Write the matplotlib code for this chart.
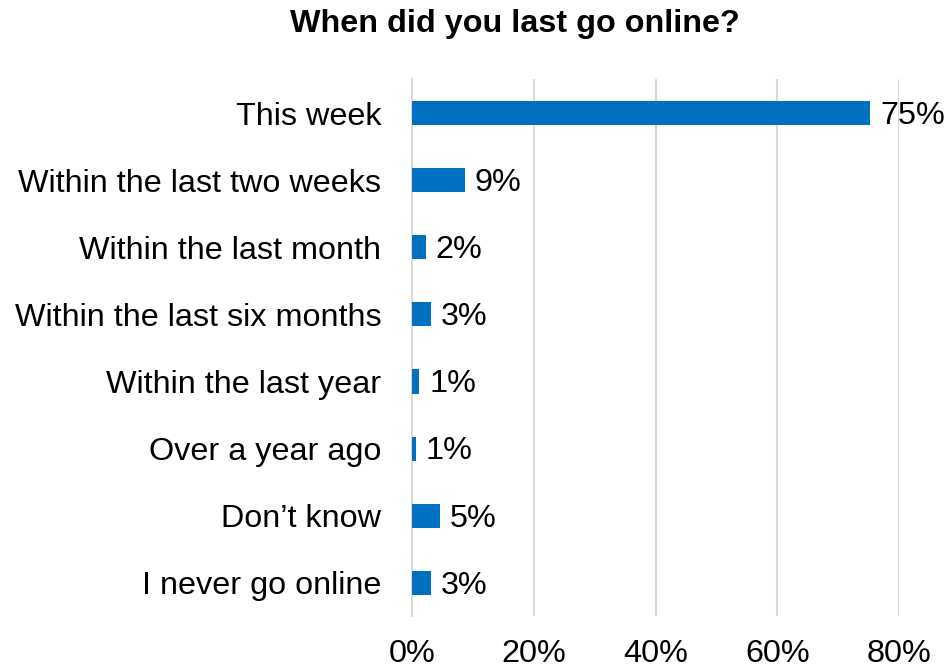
import matplotlib.pyplot as plt
from matplotlib.ticker import FuncFormatter

plt.rcParams['font.family'] = ['Liberation Sans', 'DejaVu Sans']

categories = ['This week', 'Within the last two weeks', 'Within the last month',
              'Within the last six months', 'Within the last year', 'Over a year ago',
              'Don\u2019t know', 'I never go online']
shares = [75.3, 8.7, 2.3, 3.1, 1.2, 0.6, 4.6, 3.1]
x_ticks = [0, 20, 40, 60, 80]

bar_color = '#0070C0'
grid_color = '#D9D9D9'
fs = 23.3

fig = plt.figure(figsize=(9.52, 6.7), dpi=100)
ax = fig.add_axes([0.4328, 0.0799, 0.5116, 0.8015])

y = list(range(len(categories)))
ax.barh(y, shares, height=0.36, color=bar_color, zorder=3)

# value labels, nudged down so the digits sit centred on the bar
for yi, v in zip(y, shares):
    ax.annotate('%d%%' % int(v + 0.5), (v, yi), xytext=(7, -2), textcoords='offset points',
                va='center', ha='left', fontsize=fs, color='black', zorder=4)

ax.set_xlim(0, 80)
ax.set_ylim(len(categories) - 0.5, -0.5)
ax.set_xticks(x_ticks)
ax.xaxis.set_major_formatter(FuncFormatter(lambda v, p: '%d%%' % v))
ax.set_yticks(y)
ax.set_yticklabels(categories)
ax.tick_params(axis='x', length=0, pad=16, labelsize=fs)
ax.tick_params(axis='y', length=0, pad=22, labelsize=fs)

ax.grid(axis='x', color=grid_color, linewidth=1.5, zorder=0)
for s in ['top', 'right', 'bottom']:
    ax.spines[s].set_visible(False)
ax.spines['left'].set_color(grid_color)
ax.spines['left'].set_linewidth(1.5)

fig.text(515 / 952, 1 - 24 / 670, 'When did you last go online?', ha='center', va='center',
         fontsize=fs, fontweight='bold')

fig.savefig('out.png', dpi=100)
